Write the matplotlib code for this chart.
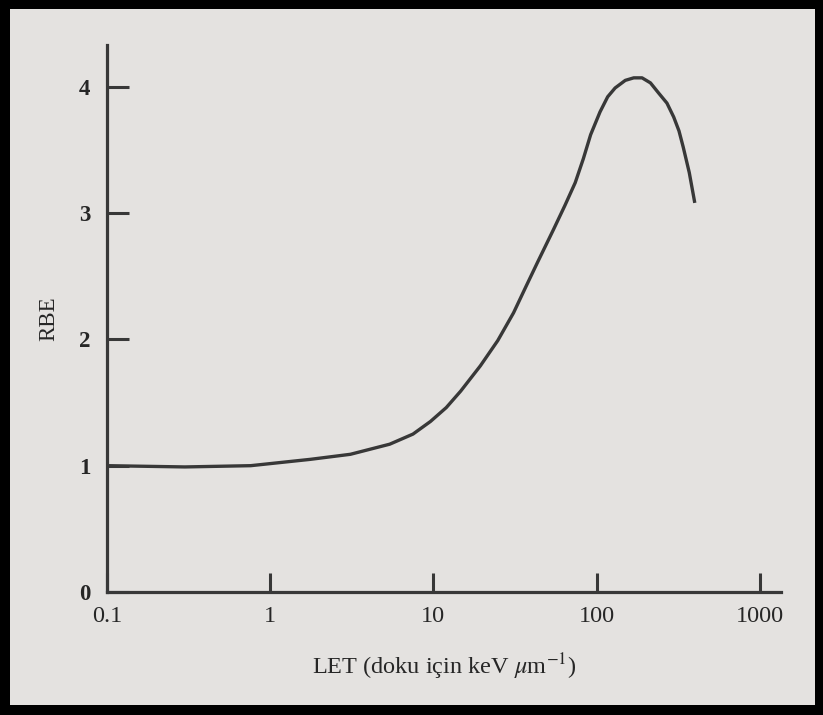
import numpy as np
import matplotlib
matplotlib.use('Agg')
import matplotlib.pyplot as plt
from matplotlib.patches import Rectangle

# RBE vs LET
let = [0.1, 0.3, 0.76, 1.76, 3.1, 5.4, 7.5, 9.6, 12, 14.7, 19.4, 24.8, 31,
       37, 43.5, 54.5, 64, 74, 83, 92, 105, 117, 130, 150, 169, 190, 214,
       240, 270, 297, 320, 340, 370, 400]
rbe = [1.0, 0.99, 1.0, 1.05, 1.09, 1.17, 1.25, 1.35, 1.46, 1.59, 1.79, 1.99,
       2.21, 2.42, 2.61, 2.87, 3.06, 3.24, 3.43, 3.62, 3.80, 3.92, 3.99, 4.05,
       4.07, 4.07, 4.03, 3.95, 3.87, 3.76, 3.65, 3.52, 3.32, 3.08]

xticks = [0.1, 1, 10, 100, 1000]
xticklabels = ['0.1', '1', '10', '100', '1000']
yticks = [0, 1, 2, 3, 4]

plt.rcParams['font.family'] = ['Liberation Serif', 'DejaVu Serif']
plt.rcParams['mathtext.fontset'] = 'stix'

ink = '#383838'
paper = '#e4e2e0'
txt = '#262626'

fig = plt.figure(figsize=(8.23, 7.15), dpi=100)
fig.patch.set_facecolor('black')
fig.patches.append(Rectangle((10/823, 10/715), 1 - 18/823, 1 - 19/715,
                             transform=fig.transFigure, facecolor=paper,
                             edgecolor='none', zorder=-10))

ax = fig.add_axes([107/823, 123/715, 674/823, 547/715])
ax.set_facecolor('none')

ax.plot(let, rbe, color=ink, lw=2.4, solid_capstyle='butt',
        solid_joinstyle='round')

ax.set_xscale('log')
ax.set_xlim(0.1, 1350)
ax.set_ylim(0, 4.33)

ax.set_xticks(xticks)
ax.set_xticklabels(xticklabels)
ax.minorticks_off()
ax.set_yticks(yticks)
ax.set_yticklabels([str(v) for v in yticks], fontweight='bold')

for s in ['top', 'right']:
    ax.spines[s].set_visible(False)
for s in ['left', 'bottom']:
    ax.spines[s].set_linewidth(2.3)
    ax.spines[s].set_color(ink)

ax.tick_params(axis='x', direction='in', length=14, width=2.2, color=ink,
               labelsize=17.5, pad=10, labelcolor=txt)
ax.tick_params(axis='y', direction='in', length=16, width=2.2, color=ink,
               labelsize=16.5, pad=12, labelcolor=txt)

ax.set_xlabel(r'LET (doku için keV $\mu$m$^{-1}$)', fontsize=17.5,
              labelpad=18, color=txt)
ax.set_ylabel('RBE', fontsize=16.5, labelpad=14, color=txt)

fig.savefig('out.png', dpi=100, facecolor=fig.get_facecolor())
